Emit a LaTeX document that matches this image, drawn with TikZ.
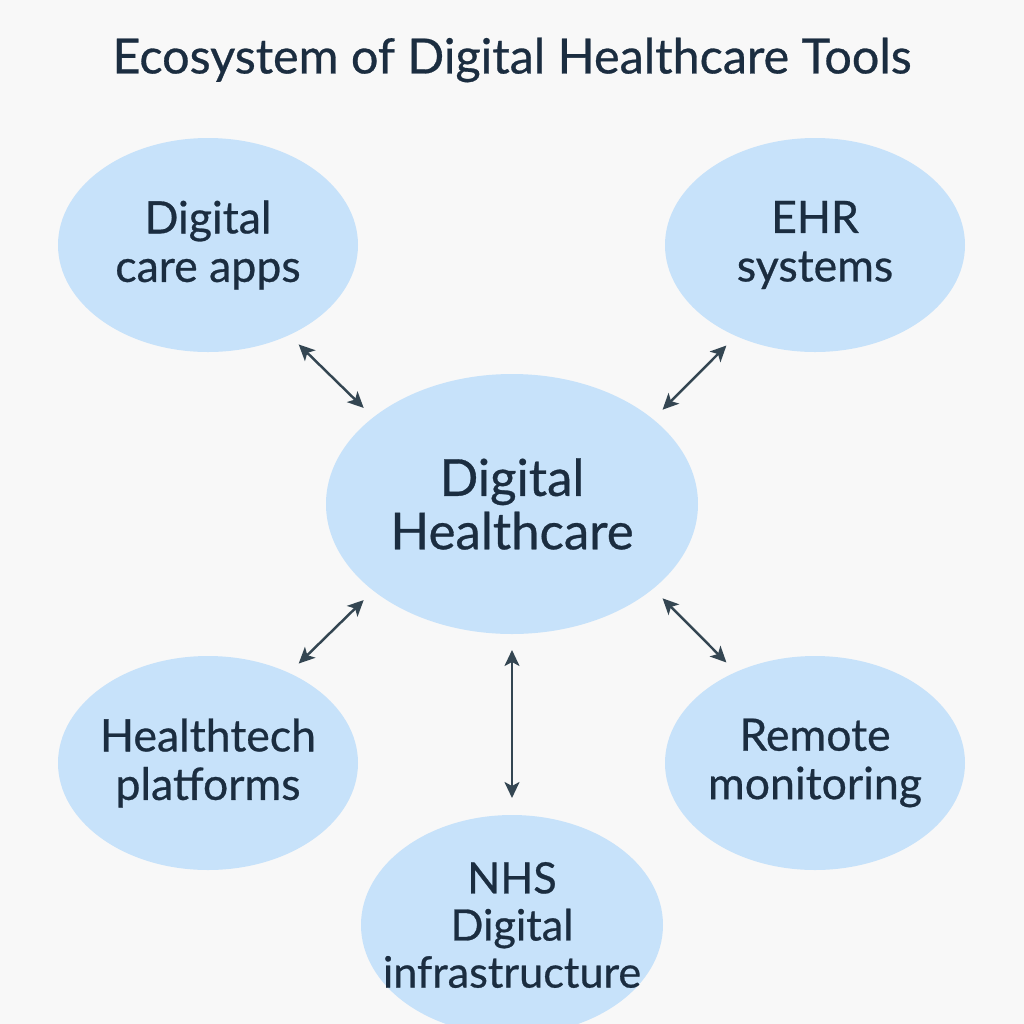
\documentclass[tikz,border=0pt]{standalone}
\usepackage{fontspec}
\setmainfont{Lato}[FakeBold=0.6]
\usetikzlibrary{positioning, arrows.meta, shapes.geometric}
\definecolor{bubblecol}{RGB}{199,226,250}
\definecolor{textcol}{RGB}{27,45,64}
\definecolor{linkcol}{RGB}{52,70,82}
\definecolor{pagecol}{RGB}{248,248,248}

\begin{document}
\begin{tikzpicture}[
			on grid,
			tool/.style={
				ellipse,
				fill=bubblecol,
				text=textcol,
				inner xsep=-0.3cm,
				inner ysep=0pt,
				outer sep=0pt,
				minimum width=3cm,
				minimum height=2.14cm,
				align=center,
				font=\fontsize{12.7}{13.8}\selectfont
			},
			hub/.style={
				tool,
				minimum width=3.72cm,
				minimum height=2.6cm,
				font=\fontsize{14.5}{15.2}\selectfont
			},
			every edge/.style={
				draw=linkcol,
				{Stealth[length=1.6mm,width=1.5mm,inset=0.4mm]}-{Stealth[length=1.6mm,width=1.5mm,inset=0.4mm]},
				line width=0.7pt,
				shorten >=1.35mm,
				shorten <=1.35mm
			}
			]
			% Page
			\fill[pagecol] (0,0) rectangle (10.24,-10.24);
			\useasboundingbox (0,0) rectangle (10.24,-10.24);
			
			% Title
			\node[text=textcol, font=\fontsize{13.8}{16}\selectfont] (title) at (5.12,-0.6) {Ecosystem of Digital Healthcare Tools};
			
			% Tools
			\node[hub] (dh) at (5.12,-5.04) {Digital\\Healthcare};
			\node[tool] (apps) [above left=2.59cm and 3.04cm of dh] {Digital\\care apps};
			\node[tool] (ehr) [above right=2.59cm and 3.03cm of dh] {EHR\\systems};
			\node[tool] (htp) [below left=2.59cm and 3.04cm of dh] {Healthtech\\platforms};
			\node[tool] (rm) [below right=2.59cm and 3.03cm of dh] {Remote\\monitoring};
			\node[tool, minimum width=3.02cm, minimum height=2.2cm, font=\fontsize{12.3}{13.4}\selectfont] (nhs) [below=4.21cm of dh] {NHS\\Digital\\infrastructure};
			
			% Links
			\path
			(apps.-48.3) edge (dh.148.6)
			(ehr.-131.7) edge (dh.31.4)
			(htp.48.3) edge (dh.-148.6)
			(rm.131.7) edge (dh.-31.4)
			(dh.south) edge [shorten <=1.6mm, shorten >=1.7mm] (nhs.north);
		\end{tikzpicture}
\end{document}
